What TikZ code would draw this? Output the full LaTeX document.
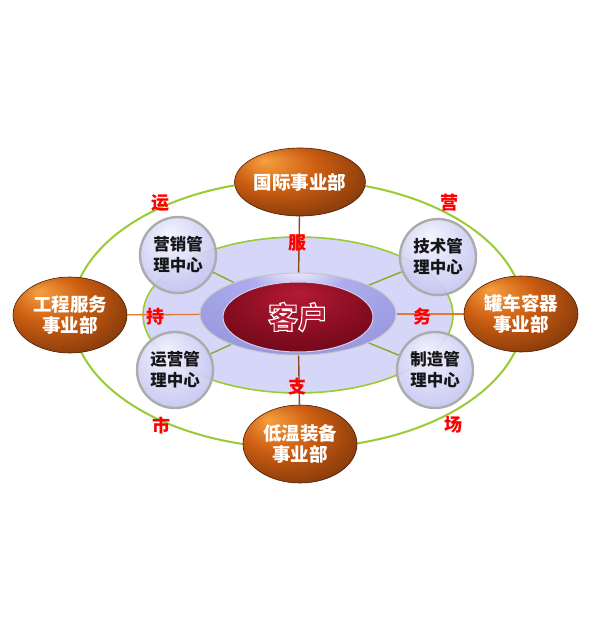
\documentclass[tikz,border=0pt]{standalone}
\usepackage{fontspec}
\newfontfamily\cjk{Noto Sans CJK SC}
\usepackage{xcolor}
\usepackage{tikz}
\usetikzlibrary{shapes.geometric, backgrounds, calc, positioning}

\definecolor{dpthi}{HTML}{F7A040}
\definecolor{dptmid}{HTML}{CC5E12}
\definecolor{dptlo}{HTML}{5A2306}
\definecolor{lavhi}{HTML}{F4F4FF}
\definecolor{lavmid}{HTML}{C6C6F2}
\definecolor{lavlo}{HTML}{A4A4DA}
\definecolor{ringhi}{HTML}{F8F8FF}
\definecolor{ringmid}{HTML}{ACACEE}
\definecolor{ringlo}{HTML}{8A8AD4}
\definecolor{redhi}{HTML}{B41A34}
\definecolor{redmid}{HTML}{840C20}
\definecolor{redlo}{HTML}{48040E}
\definecolor{midfill}{HTML}{D6D6F8}
\definecolor{ringgreen}{HTML}{99CC33}
\definecolor{brnline}{HTML}{8B4A1A}
\definecolor{orgline}{HTML}{E07B35}
\definecolor{lblred}{HTML}{FF0000}

\pgfdeclareradialshading{dptshade}{\pgfpoint{-14bp}{16bp}}{color(0bp)=(dpthi); color(16bp)=(dptmid); color(44bp)=(dptlo); color(50bp)=(dptlo)}
\pgfdeclareradialshading{lavshade}{\pgfpoint{-6bp}{14bp}}{color(0bp)=(lavhi); color(30bp)=(lavmid); color(50bp)=(lavlo)}
\pgfdeclareradialshading{ringshade}{\pgfpoint{0bp}{30bp}}{color(0bp)=(ringhi); color(12bp)=(ringmid); color(50bp)=(ringlo)}
\pgfdeclareradialshading{redshade}{\pgfpoint{0bp}{18bp}}{color(0bp)=(redhi); color(24bp)=(redmid); color(50bp)=(redlo)}

% hollow letters
\newcommand{\hollow}[1]{{\color{redhi}\special{pdf:code 2 Tr 1 1 1 RG 1.2 w}#1\special{pdf:code 0 Tr}}}

\begin{document}
\begin{tikzpicture}[x=1pt,y=-1pt,
    dept/.style={ellipse, shading=dptshade, draw=dptlo!80!black, line width=0.6pt, text=white, align=center, inner sep=0, font=\cjk\bfseries\fontsize{18.5}{21}\selectfont},
    ctr/.style={circle, minimum size=76pt, shading=lavshade, draw=gray!65, line width=2.4pt, fill opacity=0.9, align=center, inner sep=0, font=\cjk\bfseries\fontsize{16.5}{21}\selectfont},
    lbl/.style={text=lblred, inner sep=0, font=\cjk\bfseries\fontsize{18}{18}\selectfont},
    lnk/.style={line width=1.4pt}]
    \useasboundingbox (0,0) rectangle (600,635);

    % centre
    \node[ellipse, minimum width=196pt, minimum height=82pt, shading=ringshade, draw=gray!45, line width=1pt] (ring) at (298,314) {};
    \node[ellipse, minimum width=150pt, minimum height=70pt, shading=redshade, draw=white!60!ringlo, line width=1pt, font=\cjk\bfseries\fontsize{30}{30}\selectfont] (client) at (298,317) {\hollow{客户}};

    % departments
    \node[dept, minimum width=128pt, minimum height=68pt] (intl) at (300,182) {国际事业部};
    \node[dept, minimum width=114pt, minimum height=76pt] (eng) at (70,315) {工程服务\\事业部};
    \node[dept, minimum width=114pt, minimum height=76pt] (tank) at (521,314) {罐车容器\\事业部};
    \node[dept, minimum width=114pt, minimum height=78pt] (cryo) at (300,444) {低温装备\\事业部};

    % management centres
    \foreach \n/\x/\y/\t in {mkt/178/255/营销管\\理中心, tech/438/257/技术管\\理中心, ops/175/370/运营管\\理中心, mfg/435/370/制造管\\理中心}
        \node[ctr] (\n) at (\x,\y) {\t};

    % rings and lines
    \begin{scope}[on background layer]
        \fill[white] (0,0) rectangle (600,635);
        \draw[ringgreen, line width=2pt] (298,314) ellipse [x radius=226, y radius=134];
        \draw[ringgreen, line width=1.6pt, fill=midfill] (298,315) ellipse [x radius=155, y radius=78];
        \draw[lnk, brnline] (intl) -- (ring);
        \draw[lnk, brnline] (cryo) -- (ring);
        \draw[lnk, orgline] (eng) -- (ring);
        \draw[lnk, orgline] (tank) -- (ring);
        \foreach \n in {mkt,tech,ops,mfg} \draw[lnk, ringgreen!85!black] (\n) -- (ring);
    \end{scope}

    % red labels
    \foreach \i/\x/\y/\t in {1/160/203/运, 2/449/203/营, 3/297/243/服, 4/155/317/持, 5/422/317/务, 6/297/387/支, 7/161/425/市, 8/453/425/场}
        \node[lbl] (lbl\i) at (\x,\y) {\t};
\end{tikzpicture}
\end{document}
